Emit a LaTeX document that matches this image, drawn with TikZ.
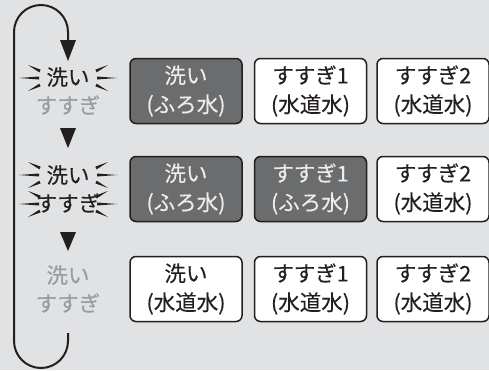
\documentclass[tikz,border=0pt]{standalone}
\usepackage{fontspec}
\setmainfont{Noto Sans CJK JP}[FakeBold=0.2]
\definecolor{bg}{HTML}{E1E2E3}
\definecolor{darkfill}{HTML}{6B6C6E}
\definecolor{ink}{HTML}{231F20}
\definecolor{lighttxt}{HTML}{EDEDED}
\definecolor{graytxt}{HTML}{9A9B9D}
\newcommand\sparkpair[2]{%
  \foreach \s in {1,-1}{%
    \begin{scope}[shift={(#1,#2)}, xscale=\s]
      \fill[ink] (-40,-13) -- (-28.67,-5.66) -- (-27.33,-8.34) -- cycle;
      \fill[ink] (-49,0) -- (-29,-1.5) -- (-29,1.5) -- cycle;
      \fill[ink] (-40,13) -- (-28.67,5.66) -- (-27.33,8.34) -- cycle;
    \end{scope}}}
\begin{document}
\begin{tikzpicture}[x=1pt,y=-1pt,
  box/.style={draw=ink, line width=1.5pt, rounded corners=6pt,
    minimum width=112pt, minimum height=65pt, inner sep=0pt, align=center,
    font=\fontsize{21.5}{29}\selectfont},
  darkbox/.style={box, fill=darkfill, text=lighttxt},
  whitebox/.style={box, fill=white, text=ink},
  lab/.style={font=\fontsize{21.5}{21.5}\selectfont, inner sep=0pt},
  on/.style={lab, text=ink},
  off/.style={lab, text=graytxt},
  loopline/.style={draw=ink, line width=2pt}
]
\useasboundingbox (0,0) rectangle (489,370);
\fill[bg] (0,0) rectangle (489,370);

% boxes
\node[darkbox]  (b11) at (186,91)   {洗い\\(ふろ水)};
\node[whitebox] (b12) at (310.5,91) {すすぎ1\\(水道水)};
\node[whitebox] (b13) at (433,91)   {すすぎ2\\(水道水)};
\node[darkbox]  (b21) at (186,189)   {洗い\\(ふろ水)};
\node[darkbox]  (b22) at (310.5,189) {すすぎ1\\(ふろ水)};
\node[whitebox] (b23) at (433,189)   {すすぎ2\\(水道水)};
\node[whitebox] (b31) at (186,289)   {洗い\\(水道水)};
\node[whitebox] (b32) at (310.5,289) {すすぎ1\\(水道水)};
\node[whitebox] (b33) at (433,289)   {すすぎ2\\(水道水)};

% left labels
\node[on]  (w1) at (68,77)  {洗い};
\node[off] (r1) at (68,105) {すすぎ};
\node[on]  (w2) at (68,175) {洗い};
\node[on]  (r2) at (68,203) {すすぎ};
\node[off] (w3) at (68,275) {洗い};
\node[off] (r3) at (68,303) {すすぎ};

\sparkpair{68}{78}
\sparkpair{68}{175}
\sparkpair{68}{204}

% step triangles
\fill[ink] (60,128) -- (76,128) -- (68,148) -- cycle;
\fill[ink] (60,232) -- (76,232) -- (68,251) -- cycle;

% loop
\coordinate (ls) at (68,333);
\coordinate (le) at (68,44);
\draw[loopline] (ls) -- (68,341) arc[start angle=0, end angle=180, radius=27]
  -- (14,32) arc[start angle=180, end angle=360, radius=27] -- (le);
\fill[ink] (60,40) -- (76,40) -- (68,61) -- cycle;
\end{tikzpicture}
\end{document}
